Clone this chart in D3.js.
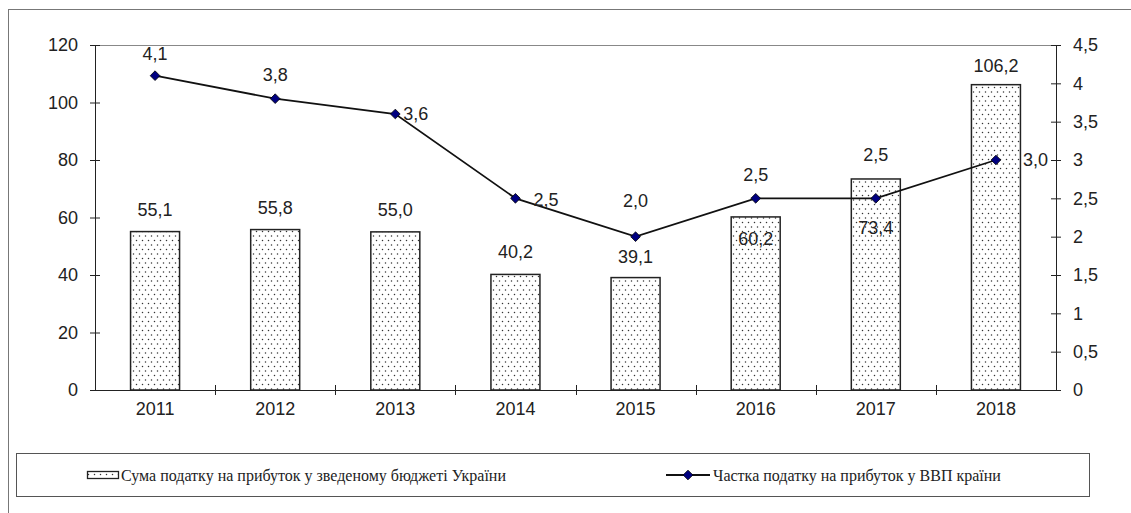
<!DOCTYPE html>
<html>
<head>
<meta charset="utf-8">
<script src="https://cdn.jsdelivr.net/npm/d3@7"></script>
<style>
  body { margin: 0; background: #fff; }
</style>
</head>
<body>
<div id="chart"></div>
<script>
// chart data
const years = ["2011", "2012", "2013", "2014", "2015", "2016", "2017", "2018"];
const taxSum = [55.1, 55.8, 55.0, 40.2, 39.1, 60.2, 73.4, 106.2];
const gdpShare = [4.1, 3.8, 3.6, 2.5, 2.0, 2.5, 2.5, 3.0];
const leftTicks = [0, 20, 40, 60, 80, 100, 120];
const rightTicks = [0, 0.5, 1, 1.5, 2, 2.5, 3, 3.5, 4, 4.5];
const barLabels = ["55,1", "55,8", "55,0", "40,2", "39,1", "60,2", "73,4", "106,2"];
const lineLabels = ["4,1", "3,8", "3,6", "2,5", "2,0", "2,5", "2,5", "3,0"];
const legendNames = ["Сума податку на прибуток у зведеному бюджеті України",
  "Частка податку на прибуток у ВВП країни"];

// where the labels sit, as in the original chart
const barLabelDy = [-16, -16, -16, -16, -15, 28, 55, -13];
const lineLabelPos = [
  { dx: 0, dy: -16 }, { dx: 0, dy: -18 }, { dx: 8, dy: 6, right: true },
  { dx: 18, dy: 8, right: true }, { dx: 0, dy: -30 }, { dx: 0, dy: -17 },
  { dx: 0, dy: -37 }, { dx: 27, dy: 6, right: true }
];

const width = 1131;
const height = 513;
const plotLeft = 95, plotRight = 1056, plotTop = 45, plotBottom = 390;
const sans = "'Liberation Sans', Arial, sans-serif";
const serif = "'Liberation Serif', 'Times New Roman', serif";

let svg = d3.select("#chart")
  .append("svg")
  .attr("width", width)
  .attr("height", height);

// dotted fill for the bars
let pat = svg.append("defs").append("pattern")
  .attr("id", "dots")
  .attr("patternUnits", "userSpaceOnUse")
  .attr("width", 6)
  .attr("height", 9);
pat.append("rect").attr("width", 6).attr("height", 9).attr("fill", "#fff");
pat.append("circle").attr("cx", 1.5).attr("cy", 2).attr("r", 0.75).attr("fill", "#333");
pat.append("circle").attr("cx", 4.5).attr("cy", 6.5).attr("r", 0.75).attr("fill", "#333");

// outer frame
svg.append("rect")
  .attr("x", 8.5).attr("y", 9.5)
  .attr("width", 1300).attr("height", 700)
  .attr("fill", "none").attr("stroke", "#777");

// scales
let xScale = d3.scaleBand().domain(years).range([plotLeft, plotRight]).paddingInner(0).paddingOuter(0);
let yLeft = d3.scaleLinear().domain([0, 120]).range([plotBottom, plotTop]);
let yRight = d3.scaleLinear().domain([0, 4.5]).range([plotBottom, plotTop]);
const barW = 49;

// top border of plot area
svg.append("line")
  .attr("x1", plotLeft).attr("x2", plotRight)
  .attr("y1", plotTop + 0.5).attr("y2", plotTop + 0.5)
  .attr("stroke", "#888");

// bars
svg.selectAll(".bar")
  .data(taxSum)
  .enter()
  .append("rect")
  .attr("class", "bar")
  .attr("x", (d, i) => xScale(years[i]) + xScale.bandwidth() / 2 - barW / 2)
  .attr("width", barW)
  .attr("y", d => yLeft(d))
  .attr("height", d => plotBottom - yLeft(d))
  .attr("fill", "url(#dots)")
  .attr("stroke", "#222")
  .attr("stroke-width", 1.5);

// left axis
let axL = svg.append("g")
  .attr("transform", "translate(" + plotLeft + ",0)")
  .call(d3.axisLeft(yLeft).tickValues(leftTicks).tickSize(5).tickPadding(12));
axL.selectAll(".tick line").attr("x2", 5).attr("x1", -5);

// right axis
let axR = svg.append("g")
  .attr("transform", "translate(" + plotRight + ",0)")
  .call(d3.axisRight(yRight).tickValues(rightTicks).tickSize(5).tickPadding(12)
    .tickFormat(d => String(d).replace(".", ",")));
axR.selectAll(".tick line").attr("x1", -5).attr("x2", 5);

// bottom axis
let axB = svg.append("g")
  .attr("transform", "translate(0," + plotBottom + ")")
  .call(d3.axisBottom(xScale).tickSize(0).tickPadding(12));
axB.selectAll(".tick line").remove();

// ticks between categories
svg.selectAll(".xdiv")
  .data(years.slice(1))
  .enter()
  .append("line")
  .attr("class", "xdiv")
  .attr("x1", d => Math.round(xScale(d)) + 0.5)
  .attr("x2", d => Math.round(xScale(d)) + 0.5)
  .attr("y1", plotBottom - 5)
  .attr("y2", plotBottom + 5)
  .attr("stroke", "#222");

svg.selectAll(".domain").attr("stroke", "#222");
svg.selectAll(".tick line").attr("stroke", "#222");
svg.selectAll("g").attr("font-size", 18).attr("font-family", sans);
svg.selectAll(".tick text").attr("fill", "#222");

// line
const cx = (d, i) => xScale(years[i]) + xScale.bandwidth() / 2;
let line = d3.line()
  .x((d, i) => cx(d, i))
  .y(d => yRight(d));

svg.append("path")
  .datum(gdpShare)
  .attr("d", line)
  .attr("fill", "none")
  .attr("stroke", "#111")
  .attr("stroke-width", 1.8);

// diamond markers
let diamond = d3.symbol().type(d3.symbolDiamond2).size(60);
svg.selectAll(".pt")
  .data(gdpShare)
  .enter()
  .append("path")
  .attr("class", "pt")
  .attr("d", diamond)
  .attr("transform", (d, i) => "translate(" + cx(d, i) + "," + yRight(d) + ")")
  .attr("fill", "#000080")
  .attr("stroke", "#000")
  .attr("stroke-width", 0.8);

// bar labels
svg.selectAll(".blabel")
  .data(taxSum)
  .enter()
  .append("text")
  .attr("class", "blabel")
  .attr("x", (d, i) => cx(d, i))
  .attr("y", (d, i) => yLeft(d) + barLabelDy[i])
  .attr("text-anchor", "middle")
  .attr("font-family", sans)
  .attr("font-size", 18)
  .attr("fill", "#222")
  .text((d, i) => barLabels[i]);

// line labels
svg.selectAll(".llabel")
  .data(gdpShare)
  .enter()
  .append("text")
  .attr("class", "llabel")
  .attr("x", (d, i) => cx(d, i) + lineLabelPos[i].dx)
  .attr("y", (d, i) => yRight(d) + lineLabelPos[i].dy)
  .attr("text-anchor", (d, i) => lineLabelPos[i].right ? "start" : "middle")
  .attr("font-family", sans)
  .attr("font-size", 18)
  .attr("fill", "#222")
  .text((d, i) => lineLabels[i]);

// legend
let lg = svg.append("g").attr("class", "legend");
lg.append("rect")
  .attr("x", 16.5).attr("y", 453.5)
  .attr("width", 1073).attr("height", 43)
  .attr("fill", "#fff").attr("stroke", "#555");

lg.append("rect")
  .attr("x", 87.5).attr("y", 471.5)
  .attr("width", 31).attr("height", 7)
  .attr("fill", "url(#dots)").attr("stroke", "#222").attr("stroke-width", 1.3);
lg.append("text")
  .attr("x", 121).attr("y", 480.5)
  .attr("font-family", serif)
  .attr("font-size", 16)
  .attr("fill", "#222")
  .text(legendNames[0]);

lg.append("line")
  .attr("x1", 666).attr("x2", 710)
  .attr("y1", 475).attr("y2", 475)
  .attr("stroke", "#111").attr("stroke-width", 1.8);
lg.append("path")
  .attr("d", diamond)
  .attr("transform", "translate(688,475)")
  .attr("fill", "#000080").attr("stroke", "#000").attr("stroke-width", 0.8);
lg.append("text")
  .attr("x", 713).attr("y", 480.5)
  .attr("font-family", serif)
  .attr("font-size", 16)
  .attr("fill", "#222")
  .text(legendNames[1]);
</script>
</body>
</html>
